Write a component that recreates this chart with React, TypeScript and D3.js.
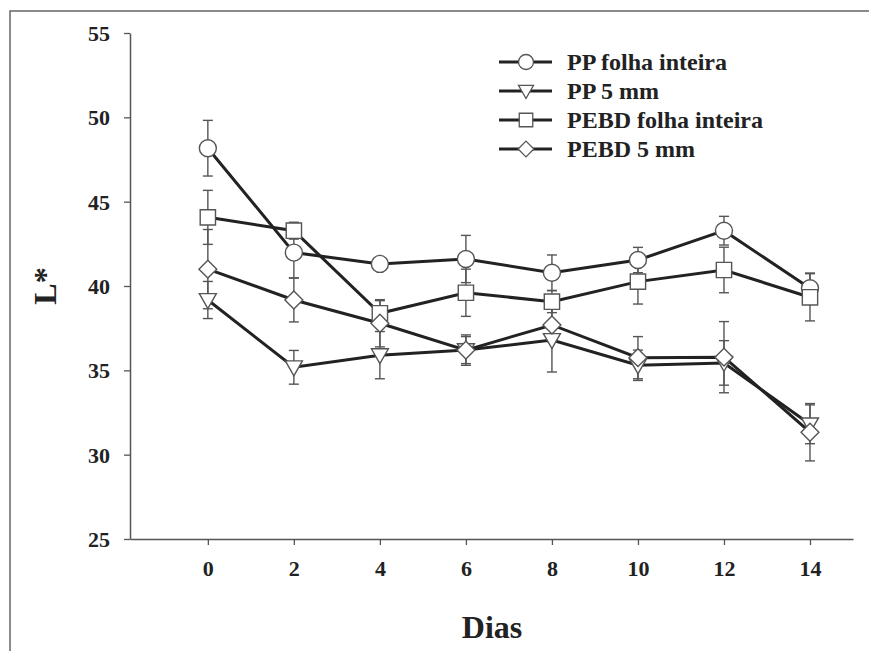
import React, { useEffect, useRef } from "react";
import * as d3 from "d3";

const days = [0, 2, 4, 6, 8, 10, 12, 14];
const ppFolha = [48.17, 41.98, 41.31, 41.6, 40.79, 41.54, 43.28, 39.87];
const ppFolhaErr = [1.65, 1.5, 0.3, 1.4, 1.05, 0.75, 0.85, 0.9];
const pp5 = [39.17, 35.18, 35.9, 36.2, 36.8, 35.3, 35.44, 31.8];
const pp5Err = [1.1, 1.0, 1.4, 0.8, 1.9, 0.9, 1.32, 1.15];
const pebdFolha = [44.07, 43.28, 38.38, 39.6, 39.07, 40.26, 40.95, 39.33];
const pebdFolhaErr = [1.6, 0.5, 0.75, 1.4, 0.65, 1.33, 1.35, 1.4];
const pebd5 = [41.0, 39.17, 37.79, 36.2, 37.69, 35.75, 35.78, 31.33];
const pebd5Err = [2.35, 1.3, 1.4, 0.9, 1.0, 1.25, 2.11, 1.7];

const seriesNames = ["PP folha inteira", "PP 5 mm", "PEBD folha inteira", "PEBD 5 mm"];
const seriesShapes = ["circle", "triangle", "square", "diamond"];
const yTicks = [25, 30, 35, 40, 45, 50, 55];

const FONT = "'Times New Roman', 'Liberation Serif', Tinos, Times, serif";

// marker outline around (0,0)
function shapePath(shape: string, s: number) {
  const p = d3.path();
  if (shape === "circle") {
    p.arc(0, 0, s, 0, Math.PI * 2);
  } else if (shape === "triangle") {
    p.moveTo(-s, -s * 0.75);
    p.lineTo(s, -s * 0.75);
    p.lineTo(0, s);
  } else if (shape === "square") {
    const h = s * 0.9;
    p.rect(-h, -h, 2 * h, 2 * h);
  } else {
    const h = s * 1.05;
    p.moveTo(0, -h);
    p.lineTo(h, 0);
    p.lineTo(0, h);
    p.lineTo(-h, 0);
  }
  p.closePath();
  return p.toString();
}

export default function App() {
  const ref = useRef<SVGSVGElement>(null);

  useEffect(() => {
    const svg = d3.select(ref.current);
    svg.selectAll("*").remove();

    const x = d3.scaleLinear().domain([-1.81, 15]).range([130, 853]);
    const y = d3.scaleLinear().domain([25, 55]).range([539, 33]);

    const values = [ppFolha, pp5, pebdFolha, pebd5];
    const errs = [ppFolhaErr, pp5Err, pebdFolhaErr, pebd5Err];

    // frame
    svg.append("path")
      .attr("d", "M10,651 L10,11 L869,11")
      .attr("fill", "none")
      .attr("stroke", "#666")
      .attr("stroke-width", 1.5);

    // axes
    const yAxis = svg.append("g")
      .attr("transform", "translate(130,0)")
      .call(d3.axisLeft(y).tickValues(yTicks).tickSize(6).tickPadding(14).tickSizeOuter(0));
    const xAxis = svg.append("g")
      .attr("transform", "translate(0,539)")
      .call(d3.axisBottom(x).tickValues(days).tickSize(6).tickPadding(16).tickSizeOuter(0));
    [xAxis, yAxis].forEach(function (g) {
      g.select(".domain").attr("stroke", "#555").attr("stroke-width", 1.5);
      g.selectAll(".tick line").attr("stroke", "#555").attr("stroke-width", 1.3);
      g.selectAll(".tick text")
        .attr("fill", "#222")
        .style("font-family", FONT)
        .style("font-weight", "bold")
        .style("font-size", "22px");
    });
    yAxis.selectAll(".tick text").attr("dy", "0.34em");
    xAxis.selectAll(".tick text").attr("dy", "0.7em");

    // error bars
    values.forEach(function (vals, si) {
      const g = svg.append("g").attr("stroke", "#555").attr("stroke-width", 1.4);
      vals.forEach(function (v, i) {
        const cx = x(days[i]);
        const top = y(v + errs[si][i]);
        const bot = y(v - errs[si][i]);
        g.append("line").attr("x1", cx).attr("x2", cx).attr("y1", top).attr("y2", bot);
        g.append("line").attr("x1", cx - 5).attr("x2", cx + 5).attr("y1", top).attr("y2", top);
        g.append("line").attr("x1", cx - 5).attr("x2", cx + 5).attr("y1", bot).attr("y2", bot);
      });
    });

    // lines
    const line = d3.line<number>()
      .x(function (d, i) { return x(days[i]); })
      .y(function (d) { return y(d); });
    values.forEach(function (vals) {
      svg.append("path")
        .datum(vals)
        .attr("fill", "none")
        .attr("stroke", "#222")
        .attr("stroke-width", 3)
        .attr("d", line);
    });

    // markers
    values.forEach(function (vals, si) {
      svg.append("g").selectAll("path")
        .data(vals)
        .enter().append("path")
        .attr("transform", function (d, i) { return "translate(" + x(days[i]) + "," + y(d) + ")"; })
        .attr("d", shapePath(seriesShapes[si], 8.5))
        .attr("fill", "white")
        .attr("stroke", "#555")
        .attr("stroke-width", 1.4);
    });

    // legend
    const legend = svg.append("g").attr("transform", "translate(499,62)");
    seriesNames.forEach(function (name, i) {
      const row = legend.append("g").attr("transform", "translate(0," + i * 29 + ")");
      row.append("line")
        .attr("x1", 0).attr("x2", 53)
        .attr("stroke", "#222").attr("stroke-width", 3);
      row.append("path")
        .attr("transform", "translate(27,0)")
        .attr("d", shapePath(seriesShapes[i], 7.5))
        .attr("fill", "white")
        .attr("stroke", "#555")
        .attr("stroke-width", 1.3);
      row.append("text")
        .attr("x", 68)
        .attr("dy", "0.34em")
        .attr("fill", "#222")
        .style("font-family", FONT)
        .style("font-weight", "bold")
        .style("font-size", "24px")
        .text(name);
    });

    // axis titles
    svg.append("text")
      .attr("x", 492)
      .attr("y", 638)
      .attr("text-anchor", "middle")
      .attr("fill", "#222")
      .style("font-family", FONT)
      .style("font-weight", "bold")
      .style("font-size", "32px")
      .text("Dias");
    svg.append("text")
      .attr("transform", "translate(56,286) rotate(-90)")
      .attr("text-anchor", "middle")
      .attr("fill", "#222")
      .style("font-family", FONT)
      .style("font-weight", "bold")
      .style("font-size", "32px")
      .text("L*");
  }, []);

  return (
    <svg
      ref={ref}
      width={869}
      height={651}
      style={{ position: "absolute", left: 0, top: 0, background: "white" }}
    />
  );
}
